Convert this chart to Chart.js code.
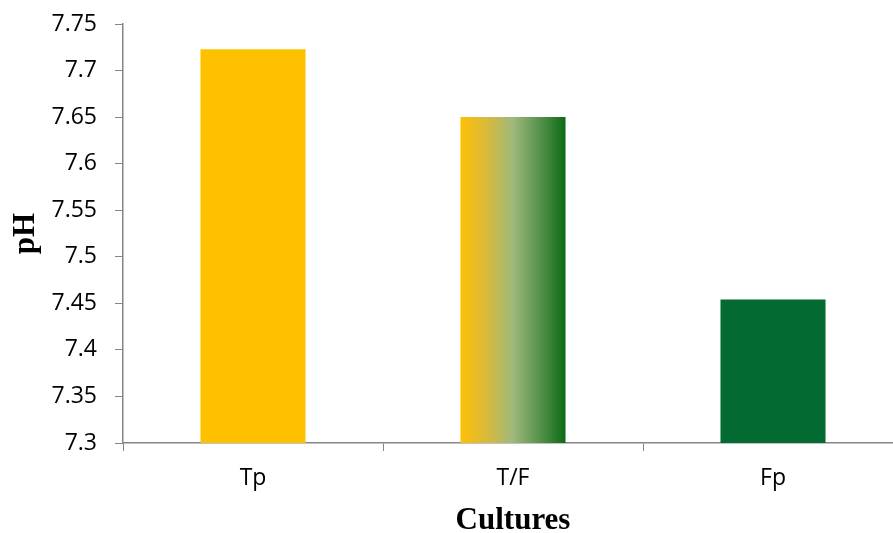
<!DOCTYPE html>
<html>
<head>
<meta charset="utf-8">
<script src="https://cdn.jsdelivr.net/npm/chart.js@4.4.1/dist/chart.umd.min.js"></script>
<style>
  html, body { margin: 0; padding: 0; background: #ffffff; overflow: hidden; }
  #wrap { width: 903px; height: 533px; }
</style>
</head>
<body>
<div id="wrap"><canvas id="chart" width="903" height="533"></canvas></div>
<script>
// pH measured for each culture
const cultures = ['Tp', 'T/F', 'Fp'];
const phValues = [7.723, 7.65, 7.454];
const yTickValues = [7.3, 7.35, 7.4, 7.45, 7.5, 7.55, 7.6, 7.65, 7.7, 7.75];

const AXIS_GREY = '#868686';
const GOLD = '#FFC000';
const GREEN = '#036B31';
const BAR_FRACTION = 0.404;

// Mixed culture bar: gold fading through sage into green, left to right
function barFill(ctx) {
  const chart = ctx.chart;
  if (ctx.dataIndex === 0) return GOLD;
  if (ctx.dataIndex === 2) return GREEN;
  const xs = chart.scales.x;
  if (!chart.chartArea || !xs) return '#9DBA7A';
  const cx = xs.getPixelForValue(ctx.dataIndex);
  const half = xs.width / cultures.length * BAR_FRACTION / 2;
  const g = chart.ctx.createLinearGradient(cx - half, 0, cx + half, 0);
  g.addColorStop(0, '#FDC004');
  g.addColorStop(0.25, '#D9B93C');
  g.addColorStop(0.5, '#9EB97B');
  g.addColorStop(0.75, '#58934E');
  g.addColorStop(1, '#0C6A14');
  return g;
}

new Chart(document.getElementById('chart'), {
  type: 'bar',
  data: {
    labels: cultures,
    datasets: [{
      data: phValues,
      backgroundColor: barFill,
      borderWidth: 0,
      categoryPercentage: 1,
      barPercentage: BAR_FRACTION
    }]
  },
  options: {
    responsive: false,
    animation: false,
    layout: { padding: { top: 24, right: 0, bottom: 0, left: 0 } },
    plugins: { legend: { display: false }, tooltip: { enabled: false } },
    scales: {
      x: {
        grid: { display: true, drawOnChartArea: false, drawTicks: true, tickLength: 8, color: AXIS_GREY, lineWidth: 1, offset: true },
        border: { display: true, color: AXIS_GREY, width: 1.5 },
        ticks: { color: '#000000', padding: 14, font: { family: '"Open Sans"', size: 23 } },
        title: {
          display: true,
          text: 'Cultures',
          color: '#000000',
          padding: { top: 0, bottom: 0 },
          font: { family: '"Liberation Serif", "Times New Roman", serif', size: 31, weight: 'bold', lineHeight: 0.75 }
        },
        afterFit(scale) { scale.height = 90; }
      },
      y: {
        min: 7.3,
        max: 7.75,
        afterBuildTicks(scale) { scale.ticks = yTickValues.map(v => ({ value: v })); },
        grid: { display: true, drawOnChartArea: false, drawTicks: true, tickLength: 8, color: AXIS_GREY, lineWidth: 1 },
        border: { display: true, color: AXIS_GREY, width: 1.5 },
        ticks: {
          color: '#000000',
          padding: 18,
          font: { family: '"Open Sans"', size: 23 },
          callback: v => String(Math.round(v * 100) / 100)
        },
        title: {
          display: true,
          text: 'pH',
          color: '#000000',
          padding: { top: 14, bottom: 0 },
          font: { family: '"Liberation Serif", "Times New Roman", serif', size: 31, weight: 'bold', lineHeight: 0.8 }
        },
        afterFit(scale) {
          scale.width = 123;
          scale.paddingTop = 0;
          scale.paddingBottom = 0;
        }
      }
    }
  }
});
</script>
</body>
</html>
